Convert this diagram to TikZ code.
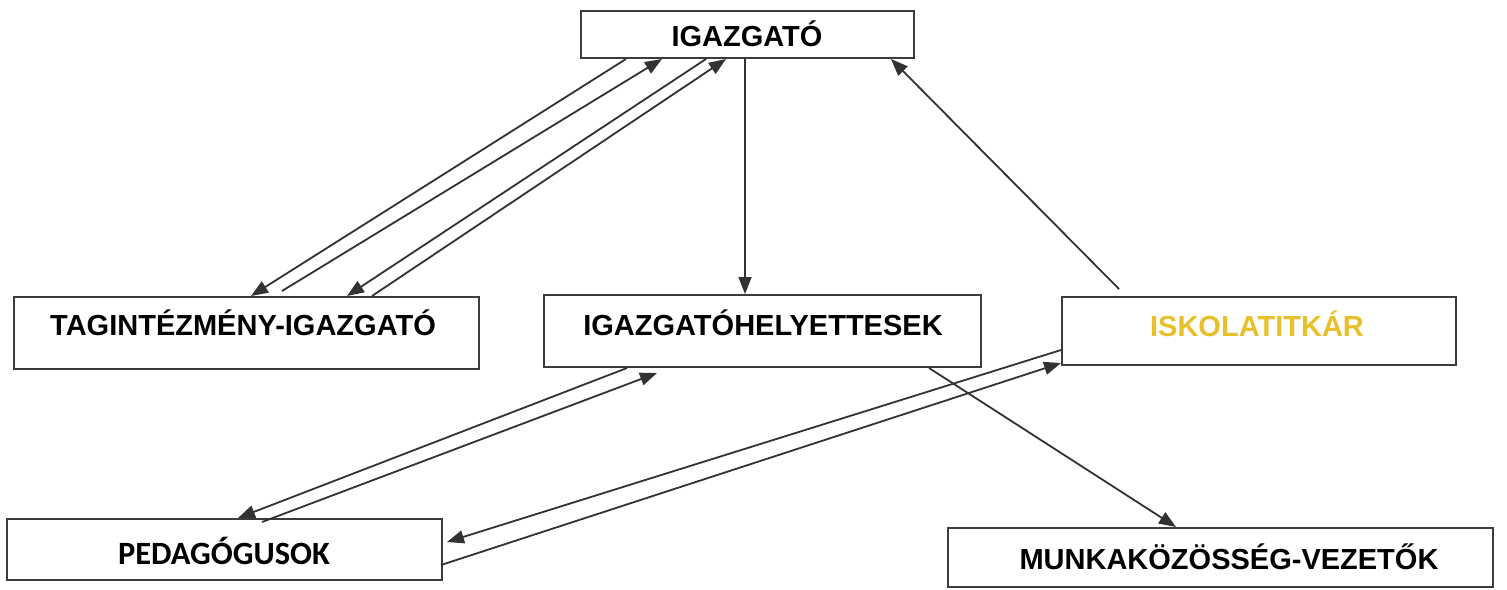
\documentclass[tikz,border=0pt]{standalone}
\usepackage{fontspec}
\setmainfont{Liberation Sans}
\newfontfamily\calfont{Carlito}
\usetikzlibrary{arrows.meta}
\definecolor{linegray}{RGB}{50,50,50}
\definecolor{boxgray}{RGB}{60,60,60}
\definecolor{gold}{RGB}{232,192,42}
\tikzset{
  box/.style={draw=boxgray, line width=2pt, rectangle, inner sep=0pt, fill=white},
  lbl/.style={font=\fontsize{29}{33}\selectfont\bfseries, inner sep=0pt, anchor=center},
  pedlbl/.style={font=\calfont\fontsize{32.5}{36}\selectfont\bfseries, inner sep=0pt, anchor=center},
  arr/.style={draw=linegray, line width=1.8pt, -{Triangle[length=17pt,width=13pt]}}
}
\begin{document}
\begin{tikzpicture}[x=1pt,y=-1pt]
\useasboundingbox[fill=white] (0,0) rectangle (1507,589);
% boxes
\node[box, minimum width=333pt, minimum height=47pt] (ig) at (747.5,34.5) {};
\node[box, minimum width=465pt, minimum height=72pt] (tag) at (246.5,333) {};
\node[box, minimum width=437pt, minimum height=72pt] (igh) at (762.5,331) {};
\node[box, minimum width=394pt, minimum height=68pt] (isk) at (1259,331) {};
\node[box, minimum width=435pt, minimum height=61pt] (ped) at (224.5,549.5) {};
\node[box, minimum width=545pt, minimum height=59pt] (mk) at (1220.5,557.5) {};
% labels
\node[lbl] (igT) at (747,33.5) {IGAZGATÓ};
\node[lbl] (tagT) at (243,323) {TAGINTÉZMÉNY-IGAZGATÓ};
\node[lbl] (ighT) at (763,323) {IGAZGATÓHELYETTESEK};
\node[lbl, text=gold] (iskT) at (1257,323.5) {ISKOLATITKÁR};
\node[pedlbl] (pedT) at (224,550.5) {PEDAGÓGUSOK};
\node[lbl] (mkT) at (1229,557) {MUNKAKÖZÖSSÉG-VEZETŐK};
% connectors
\draw[arr] ([xshift=46pt]ig.south west) -- ([xshift=238pt]tag.north west);
\draw[arr] ([xshift=269pt,yshift=5pt]tag.north west) -- ([xshift=82pt]ig.south west);
\draw[arr] ([xshift=126pt]ig.south west) -- ([xshift=334pt]tag.north west);
\draw[arr] ([xshift=359pt]tag.north west) -- ([xshift=146pt]ig.south west);
\draw[arr] ([xshift=165pt]ig.south west) -- ([xshift=202pt]igh.north west);
\draw[arr] ([xshift=58pt,yshift=7pt]isk.north west) -- ([xshift=311pt]ig.south west);
\draw[arr] ([xshift=84pt]igh.south west) -- ([xshift=232pt]ped.north west);
\draw[arr] ([xshift=256pt,yshift=-4pt]ped.north west) -- ([xshift=114pt,yshift=-5pt]igh.south west);
\draw[arr] ([yshift=16pt]isk.south west) -- ([xshift=4pt,yshift=-24pt]ped.north east);
\draw[arr] ([xshift=-2pt,yshift=-47pt]ped.north east) -- ([yshift=3pt]isk.south west);
\draw[arr] ([xshift=386pt]igh.south west) -- ([xshift=229pt]mk.north west);
\end{tikzpicture}
\end{document}
